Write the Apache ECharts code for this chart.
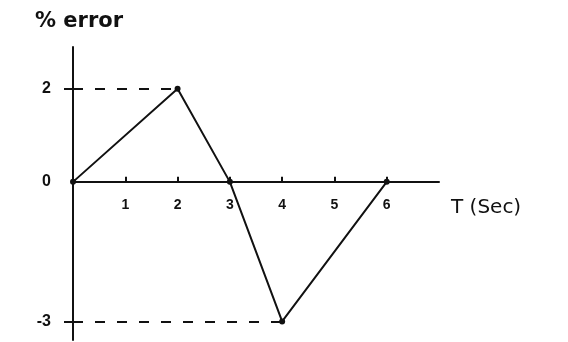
<!DOCTYPE html>
<html>
<head>
<meta charset="utf-8">
<script src="https://cdn.jsdelivr.net/npm/echarts@6/dist/echarts.min.js"></script>
<style>
  html, body { margin: 0; padding: 0; background: #fff; }
  #chart { width: 568px; height: 342px; }
</style>
</head>
<body>
<div id="chart"></div>
<script>
// 时间 T (sec) 和误差 % error
var timeVals = [0, 2, 3, 4, 6];
var errorVals = [0, 2, 0, -3, 0];
var xTickVals = [1, 2, 3, 4, 5, 6];
var yLabelVals = [-3, 0, 2];
var yTickVals = [-3, 2];

var yMin = -3.4, yMax = 2.9;
var gridTop = 47, gridBottom = 2;
var plotH = 342 - gridTop - gridBottom;
// x轴放在0的位置（用offset往上挪）
var zeroOffset = -plotH * (0 - yMin) / (yMax - yMin);

var chart = echarts.init(document.getElementById('chart'));

var points = timeVals.map(function (t, i) { return [t, errorVals[i]]; });

var option = {
    animation: false,
    title: [
        { text: '% error', left: 30, top: 6, textStyle: { color: '#111', fontSize: 21, fontWeight: 'bold', fontFamily: 'DejaVu Sans' } },
        { text: 'T (Sec)', left: 446, top: 193, textStyle: { color: '#111', fontSize: 20, fontWeight: 'normal', fontFamily: 'DejaVu Sans' } }
    ],
    grid: { left: 73, right: 129, top: gridTop, bottom: gridBottom, outerBoundsMode: 'none' },
    xAxis: {
        type: 'value',
        min: 0,
        max: 7,
        position: 'bottom',
        offset: zeroOffset,
        axisLine: { onZero: false, lineStyle: { color: '#111', width: 2 } },
        axisTick: { show: true, customValues: xTickVals, inside: true, length: 5, lineStyle: { color: '#111', width: 2 } },
        axisLabel: { customValues: xTickVals, color: '#111', fontSize: 14, fontWeight: 'bold', margin: 16 },
        splitLine: { show: false }
    },
    yAxis: {
        type: 'value',
        min: yMin,
        max: yMax,
        axisLine: { show: true, onZero: false, lineStyle: { color: '#111', width: 2 } },
        axisTick: { show: true, customValues: yTickVals, length: 9, lineStyle: { color: '#111', width: 2 } },
        axisLabel: { customValues: yLabelVals, color: '#111', fontSize: 16, fontWeight: 'bold', margin: 22 },
        splitLine: { show: false }
    },
    series: [{
        type: 'line',
        data: points,
        symbol: 'circle',
        symbolSize: 6,
        itemStyle: { color: '#111' },
        lineStyle: { color: '#111', width: 2 },
        markLine: {
            silent: true,
            symbol: 'none',
            label: { show: false },
            lineStyle: { color: '#111', type: [10, 12], width: 2 },
            data: [
                [{ coord: [0, errorVals[1]] }, { coord: [timeVals[1], errorVals[1]] }],
                [{ coord: [0, errorVals[3]] }, { coord: [timeVals[3], errorVals[3]] }]
            ]
        }
    }]
};

chart.setOption(option);
</script>
</body>
</html>
